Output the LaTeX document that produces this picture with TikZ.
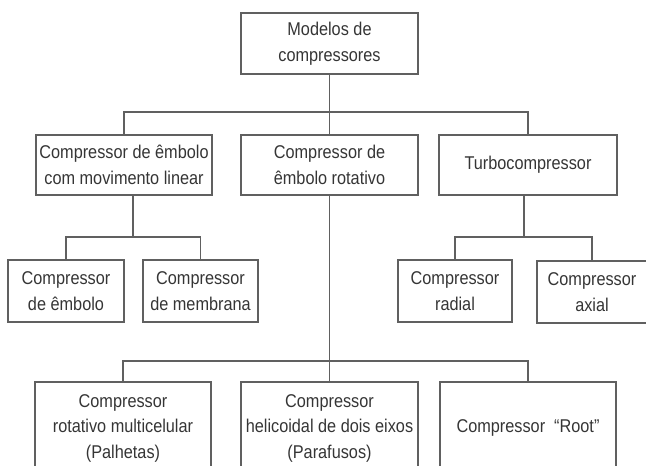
\documentclass[tikz,border=0pt]{standalone}
\usepackage{fontspec}
\setmainfont[FakeStretch=0.88]{Liberation Sans}
\definecolor{linha}{HTML}{606060}
\definecolor{texto}{HTML}{353535}
\tikzset{
	box/.style={draw=linha, line width=1.8pt, align=center, inner sep=0pt,
		text=texto, font=\fontsize{18.5}{25.5}\selectfont},
	conn/.style={draw=linha, line width=1.8pt}
}

\begin{document}
\begin{tikzpicture}[x=1pt,y=-1pt]

	\useasboundingbox (0,0) rectangle (646,466);
	\clip (0,0) rectangle (646,466);

	% topo
	\node[box, minimum width=177pt, minimum height=61pt] (modelos) at (329.5,43.5) {Modelos de\\compressores};

	% primeiro nivel
	\node[box, minimum width=176pt, minimum height=60pt] (linear) at (124,165) {Compressor de êmbolo\\com movimento linear};
	\node[box, minimum width=177pt, minimum height=60pt] (rotativo) at (329.5,165) {Compressor de\\êmbolo rotativo};
	\node[box, minimum width=178pt, minimum height=60pt] (turbo) at (528,165) {Turbocompressor};

	% filhos do linear
	\node[box, minimum width=116pt, minimum height=62pt] (embolo) at (66,291) {Compressor\\de êmbolo};
	\node[box, minimum width=115pt, minimum height=62pt] (membrana) at (200.5,291) {Compressor\\de membrana};

	% filhos do turbo
	\node[box, minimum width=114pt, minimum height=62pt] (radial) at (455,291) {Compressor\\radial};
	\node[box, minimum width=110pt, minimum height=62pt] (axial) at (592,292) {Compressor\\axial};

	% filhos do rotativo
	\node[box, minimum width=176pt, minimum height=92pt] (palhetas) at (123,428) {Compressor\\rotativo multicelular\\(Palhetas)};
	\node[box, minimum width=177pt, minimum height=92pt] (parafusos) at (329.5,428) {Compressor\\helicoidal de dois eixos\\(Parafusos)};
	\node[box, minimum width=176pt, minimum height=92pt] (root) at (528,428) {Compressor\ \ ``Root''};

	\coordinate (j1) at (329.5,112);
	\coordinate (j2) at (133,237);
	\coordinate (j3) at (524,237);
	\coordinate (j4) at (329.5,361);

	\draw[conn] (modelos.south) -- (j1);
	\draw[conn] (linear.north) |- (j1) -| (turbo.north);
	\draw[conn] (j1) -- (rotativo.north);

	\draw[conn] (j2 |- linear.south) -- (j2);
	\draw[conn] (embolo.north) |- (j2) -| (membrana.north);

	\draw[conn] (j3 |- turbo.south) -- (j3);
	\draw[conn] (radial.north) |- (j3) -| (axial.north);

	\draw[conn] (rotativo.south) -- (j4);
	\draw[conn] (palhetas.north) |- (j4) -| (root.north);
	\draw[conn] (j4) -- (parafusos.north);

\end{tikzpicture}
\end{document}
